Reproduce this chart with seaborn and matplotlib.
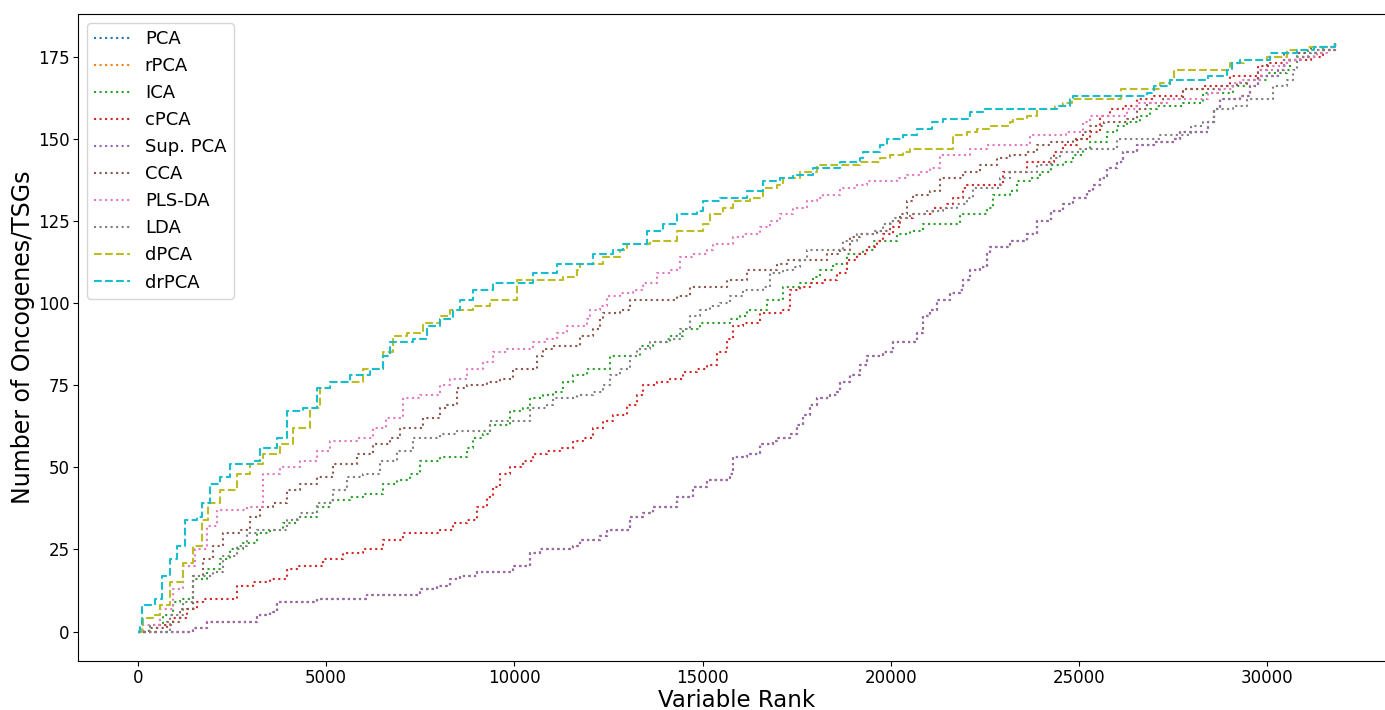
import matplotlib
matplotlib.use("Agg")
import matplotlib.pyplot as plt
import pandas as pd
import seaborn as sns

# cumulative number of oncogenes/TSGs vs variable rank
# PCA, rPCA and Sup. PCA lie on top of each other
pca = [(0, 0), (1460, 1), (1830, 3), (2790, 3), (3160, 5), (3510, 6), (3690, 9), (4650, 9),
       (4750, 10), (5980, 10), (6080, 11), (7230, 11), (7490, 13), (7950, 14), (8290, 16),
       (8560, 17), (9010, 18), (9700, 18), (9970, 20), (10420, 24), (10680, 25), (11210, 25),
       (11560, 26), (11750, 28), (12280, 29), (12460, 31), (12890, 31), (13070, 35), (13420, 36),
       (13690, 38), (14220, 38), (14320, 41), (14750, 44), (15120, 46), (15550, 46), (15730, 48),
       (15810, 53), (16180, 54), (16530, 57), (16880, 58), (16980, 59), (17330, 60), (17510, 63),
       (17670, 66), (17860, 69), (18040, 71), (18390, 72), (18580, 73), (18660, 76), (18920, 78),
       (19190, 81), (19370, 84), (19800, 85), (20060, 88), (20600, 88), (20700, 91), (20860, 96),
       (21050, 98), (21230, 101), (21580, 103), (21840, 104), (21920, 107), (22110, 110),
       (22380, 111), (22560, 115), (22640, 117), (23090, 117), (23170, 119), (23620, 121),
       (23890, 125), (24240, 128), (24580, 130), (24850, 132), (25220, 134), (25380, 136),
       (25560, 138), (25750, 141), (26010, 143), (26170, 146), (26550, 148), (26980, 149),
       (27340, 149), (27510, 150), (27690, 152), (28220, 152), (28410, 155), (28570, 159),
       (28750, 162), (29020, 162), (29280, 163), (29550, 166), (29740, 169), (30000, 169),
       (30270, 171), (30430, 174), (30690, 174), (30880, 175), (31230, 176), (31490, 177),
       (31800, 179)]
rpca = pca
sup_pca = pca

ica = [(0, 0), (320, 2), (660, 5), (930, 9), (1120, 10), (1460, 16), (1830, 19), (2180, 22),
       (2450, 25), (2790, 27), (3160, 30), (3510, 31), (3850, 33), (4220, 35), (4750, 38),
       (5100, 40), (5630, 41), (5980, 42), (6510, 45), (6880, 46), (7230, 48), (7490, 52),
       (8030, 53), (8370, 53), (8740, 56), (8900, 59), (9170, 60), (9350, 63), (9800, 63),
       (9890, 67), (10230, 68), (10420, 71), (10770, 72), (11030, 73), (11290, 76), (11560, 78),
       (11930, 80), (12360, 80), (12540, 84), (13070, 84), (13340, 87), (13690, 88), (14060, 88),
       (14140, 90), (14480, 92), (14750, 92), (14940, 94), (15550, 94), (15730, 95), (16000, 96),
       (16180, 98), (16530, 98), (16720, 101), (16980, 101), (17140, 105), (17590, 106),
       (17940, 108), (18120, 110), (18470, 112), (18840, 115), (19270, 116), (19540, 119),
       (19900, 119), (20170, 121), (20520, 122), (20860, 124), (21580, 124), (21840, 127),
       (22300, 127), (22560, 129), (22720, 133), (23170, 134), (23360, 137), (23700, 138),
       (23970, 140), (24240, 142), (24580, 143), (24850, 145), (25110, 147), (25300, 149),
       (25560, 149), (25750, 152), (26010, 154), (26280, 155), (26630, 157), (26890, 159),
       (27080, 160), (27610, 160), (27770, 161), (28140, 161), (28300, 164), (28750, 164),
       (29100, 166), (29470, 168), (30000, 170), (30530, 171), (30610, 174), (30800, 176),
       (31070, 177), (31490, 178), (31800, 179)]

cpca = [(0, 0), (500, 2), (930, 4), (1300, 7), (1570, 9), (1730, 10), (2450, 10), (2630, 14),
        (3060, 15), (3510, 16), (3960, 19), (4220, 20), (4920, 22), (5450, 24), (5980, 25),
        (6510, 28), (7050, 30), (8030, 31), (8370, 33), (8740, 34), (9010, 38), (9270, 41),
        (9430, 44), (9620, 48), (9890, 50), (10230, 52), (10500, 54), (10870, 55), (11210, 56),
        (11560, 58), (11830, 59), (12090, 62), (12360, 64), (12620, 66), (12990, 69), (13260, 72),
        (13420, 75), (13790, 76), (14140, 77), (14480, 79), (14860, 80), (15120, 81), (15390, 85),
        (15650, 89), (15810, 93), (16080, 94), (16530, 97), (17140, 98), (17330, 104),
        (17590, 105), (17860, 106), (18200, 107), (18580, 109), (18840, 113), (19100, 115),
        (19370, 117), (19640, 119), (19800, 121), (20060, 123), (20250, 126), (20600, 127),
        (21130, 129), (21500, 130), (21660, 132), (21920, 135), (22030, 136), (22720, 136),
        (22990, 140), (23620, 143), (23970, 143), (24320, 146), (24580, 148), (24950, 150),
        (25300, 152), (25560, 157), (25830, 159), (26170, 160), (26550, 162), (26980, 163),
        (27770, 165), (28300, 166), (29020, 169), (29630, 169), (29740, 172), (30080, 173),
        (30530, 174), (31150, 175), (31490, 177), (31800, 179)]

cca = [(0, 0), (300, 1), (770, 3), (1120, 7), (1460, 17), (1730, 22), (2000, 26), (2260, 30),
       (2710, 31), (2980, 35), (3240, 38), (3590, 39), (3960, 43), (4300, 45), (4750, 47),
       (5180, 51), (5820, 54), (6250, 57), (6700, 59), (6960, 62), (7310, 62), (7570, 65),
       (8030, 68), (8210, 69), (8480, 74), (8740, 75), (9270, 76), (9620, 77), (9970, 80),
       (10340, 80), (10600, 84), (10770, 86), (11030, 87), (11560, 87), (11750, 90), (12090, 92),
       (12280, 95), (12360, 97), (12810, 98), (13070, 101), (14140, 101), (14320, 102),
       (14670, 105), (15550, 105), (15650, 107), (16000, 107), (16180, 110), (16800, 110),
       (16980, 112), (17250, 113), (18040, 113), (18310, 115), (18660, 116), (18920, 120),
       (19190, 121), (19640, 122), (19980, 125), (20250, 127), (20440, 131), (20600, 133),
       (21050, 134), (21310, 138), (21760, 138), (21920, 140), (22380, 142), (22830, 144),
       (23170, 145), (23620, 146), (23890, 148), (24240, 149), (24850, 150), (25110, 152),
       (25300, 154), (25650, 155), (26010, 155), (26280, 156), (26550, 159), (26810, 161),
       (27240, 162), (27770, 165), (28490, 165), (28750, 166), (29200, 167), (29470, 168),
       (29740, 171), (30000, 175), (30430, 176), (30800, 176), (31150, 178), (31800, 179)]

plsda = [(0, 0), (130, 2), (580, 7), (930, 13), (1200, 20), (1510, 25), (1830, 32), (2100, 37),
         (2900, 38), (3320, 48), (3770, 50), (4300, 52), (4750, 55), (5100, 58), (5820, 59),
         (6250, 62), (6600, 65), (7050, 71), (7490, 72), (8030, 75), (8290, 77), (8740, 80),
         (9170, 82), (9430, 85), (9800, 86), (10340, 86), (10500, 88), (10870, 89), (11130, 91),
         (11400, 93), (11750, 93), (11930, 95), (12010, 98), (12280, 99), (12460, 102),
         (12810, 103), (13150, 104), (13420, 106), (13790, 109), (14140, 110), (14400, 114),
         (14750, 115), (15120, 116), (15280, 118), (15650, 118), (15810, 120), (16080, 121),
         (16530, 123), (16800, 125), (17060, 127), (17410, 129), (17780, 131), (18040, 132),
         (18200, 133), (18660, 135), (19100, 136), (19370, 137), (20170, 138), (20440, 139),
         (20780, 140), (21050, 141), (21310, 145), (21920, 145), (22110, 147), (22560, 148),
         (23520, 148), (23700, 151), (24580, 151), (24640, 152), (24850, 152), (25110, 155),
         (25300, 157), (26100, 157), (26280, 159), (26550, 161), (27340, 162), (28410, 164),
         (28750, 165), (29100, 167), (29280, 168), (29820, 171), (30160, 172), (30530, 174),
         (30880, 175), (31330, 176), (31600, 177), (31800, 179)]

lda = [(0, 0), (850, 5), (1200, 9), (1460, 17), (2000, 18), (2260, 23), (2630, 26), (2900, 30),
       (3160, 31), (3590, 31), (3960, 34), (4300, 36), (4750, 39), (5180, 43), (5550, 47),
       (5980, 48), (6430, 52), (6880, 55), (7310, 59), (8030, 60), (8480, 61), (9010, 61),
       (9350, 64), (10070, 64), (10420, 68), (10870, 69), (11030, 71), (11660, 72), (12090, 73),
       (12360, 75), (12540, 78), (12810, 80), (13070, 84), (13260, 86), (13610, 88), (14060, 89),
       (14400, 92), (14670, 96), (14940, 98), (15200, 99), (15470, 100), (15730, 102),
       (16080, 104), (16610, 105), (16800, 109), (17140, 110), (17410, 111), (17590, 113),
       (17780, 116), (18470, 116), (18740, 119), (19100, 121), (19540, 122), (19800, 124),
       (20060, 126), (20520, 127), (20970, 128), (21390, 129), (21760, 130), (22030, 132),
       (22190, 135), (22720, 135), (22910, 138), (23170, 140), (23700, 140), (23890, 142),
       (24240, 144), (24500, 146), (25030, 147), (25650, 147), (26010, 150), (27080, 150),
       (27160, 151), (27690, 151), (27960, 154), (28300, 155), (28570, 159), (29100, 160),
       (29470, 162), (29820, 162), (30160, 166), (30530, 168), (30690, 171), (30800, 175),
       (31070, 176), (31330, 177), (31800, 179)]

dpca = [(0, 0), (100, 2), (130, 4), (400, 5), (580, 8), (850, 15), (1200, 21), (1460, 26),
        (1700, 34), (1860, 39), (2180, 43), (2630, 48), (2980, 51), (3320, 54), (3770, 57),
        (4120, 62), (4570, 68), (4840, 74), (5100, 76), (5980, 80), (6510, 85), (6780, 90),
        (7150, 91), (7570, 94), (8030, 96), (8290, 98), (8900, 99), (9350, 101), (9800, 101),
        (10070, 107), (11030, 107), (11290, 108), (11670, 110), (11750, 112), (12360, 114),
        (12810, 116), (12990, 118), (13530, 118), (13610, 119), (14060, 119), (14320, 122),
        (15010, 124), (15200, 127), (15550, 129), (15810, 131), (16260, 132), (16610, 135),
        (16980, 136), (17140, 138), (17590, 140), (18040, 142), (18580, 142), (19190, 143),
        (19720, 144), (19980, 145), (20330, 146), (20520, 147), (21500, 147), (21660, 151),
        (22030, 152), (22300, 153), (22640, 154), (23170, 155), (23250, 156), (23620, 157),
        (23890, 159), (24370, 160), (24580, 161), (24820, 162), (26010, 162), (26100, 165),
        (27080, 165), (27160, 167), (27420, 168), (27510, 171), (28940, 171), (29020, 173),
        (29370, 174), (30000, 175), (30350, 175), (30530, 177), (31070, 178), (31800, 179)]

drpca = [(0, 0), (50, 2), (100, 8), (450, 10), (640, 17), (850, 22), (1030, 26), (1250, 34),
         (1570, 35), (1700, 39), (1910, 45), (2180, 47), (2450, 51), (3060, 52), (3240, 56),
         (3690, 59), (3960, 67), (4390, 68), (4750, 74), (5100, 76), (5630, 78), (6160, 80),
         (6510, 84), (6700, 88), (7310, 89), (7680, 93), (8030, 95), (8370, 98), (8560, 101),
         (8900, 104), (9430, 106), (10230, 106), (10500, 109), (10950, 109), (11130, 112),
         (11660, 112), (12100, 115), (12620, 116), (12890, 118), (13340, 118), (13530, 122),
         (13950, 124), (14320, 127), (14860, 128), (15010, 131), (15470, 132), (15920, 132),
         (16180, 134), (16610, 137), (17060, 138), (17410, 139), (17940, 141), (18390, 141),
         (18660, 143), (19190, 144), (19270, 146), (19720, 148), (19900, 150), (20330, 151),
         (20700, 153), (21100, 155), (21390, 156), (21920, 156), (22110, 158), (22460, 159),
         (24240, 159), (24420, 160), (24770, 162), (24850, 163), (26630, 163), (26810, 164),
         (26980, 166), (27340, 166), (27420, 168), (28300, 168), (28410, 169), (28940, 171),
         (29070, 173), (29280, 174), (29820, 174), (30080, 176), (30530, 176), (30800, 177),
         (31230, 178), (31800, 179)]

methods = ["PCA", "rPCA", "ICA", "cPCA", "Sup. PCA", "CCA", "PLS-DA", "LDA", "dPCA", "drPCA"]
curves = [pca, rpca, ica, cpca, sup_pca, cca, plsda, lda, dpca, drpca]

palette = sns.color_palette("tab10", len(methods))
line_styles = [":"] * 8 + ["--"] * 2

fig = plt.figure(figsize=(13.85, 7.1), dpi=100)
# right edge of the axes sits just past the image border, as in the original
ax = fig.add_axes([78 / 1385, 49 / 710, 1317 / 1385, 647 / 710])

for name, pts, col, ls in zip(methods, curves, palette, line_styles):
    df = pd.DataFrame(pts, columns=["rank", "count"])
    sns.lineplot(data=df, x="rank", y="count", ax=ax, color=col, linestyle=ls,
                 drawstyle="steps-post", lw=1.5, label=name)

ax.set_xlabel("Variable Rank", fontsize=16.5, labelpad=1)
ax.set_ylabel("Number of Oncogenes/TSGs", fontsize=17, labelpad=2)
ax.tick_params(labelsize=12, pad=2.5)
ax.legend(loc="upper left", fontsize=13)

fig.savefig("out.png", dpi=100)
